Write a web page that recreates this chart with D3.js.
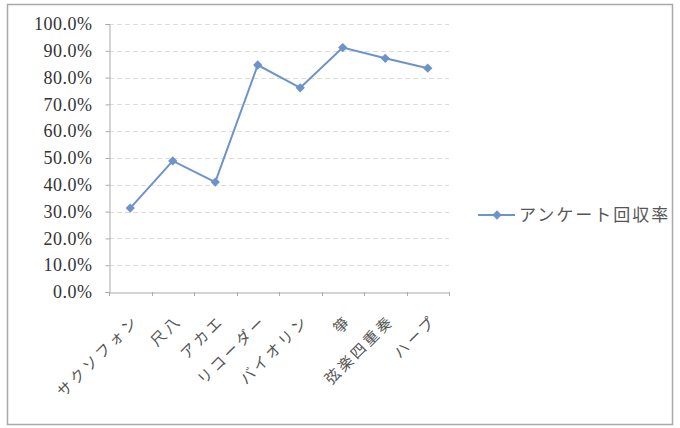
<!DOCTYPE html>
<html><head><meta charset="utf-8">
<script src="https://cdn.jsdelivr.net/npm/d3@7"></script>
<style>body{margin:0;background:#fff}svg{display:block}</style>
</head><body>
<svg id="c" width="680" height="428"></svg>
<script>
const categories = ["サクソフォン","尺八","アカエ","リコーダー","バイオリン","箏","弦楽四重奏","ハープ"];
const values = [31.3, 48.9, 41.0, 84.7, 76.2, 91.2, 87.2, 83.5];
const seriesName = "アンケート回収率";
const yTicks = [0,10,20,30,40,50,60,70,80,90,100];

const svg = d3.select("#c");
const m = {left:109, right:449, top:24, bottom:292};
svg.append("rect").attr("x",7.5).attr("y",4.5).attr("width",665).attr("height",420)
  .attr("fill","#fff").attr("stroke","#a9a9a9").attr("stroke-width",1.5);

const x = d3.scaleBand().domain(categories).range([m.left,m.right]);
const y = d3.scaleLinear().domain([0,100]).range([m.bottom,m.top]);

// gridlines
svg.append("g").selectAll("line").data(yTicks.filter(d=>d>0)).join("line")
  .attr("x1",m.left).attr("x2",m.right)
  .attr("y1",d=>Math.round(y(d))+0.5).attr("y2",d=>Math.round(y(d))+0.5)
  .attr("stroke","#dcdcdc").attr("stroke-width",1).attr("stroke-dasharray","5,3");

const serif = "'Liberation Serif','DejaVu Serif',serif";
const jp = "'Noto Sans CJK JP','Noto Sans CJK SC',sans-serif";

const ya = svg.append("g").attr("transform",`translate(${m.left+0.5},0)`)
  .call(d3.axisLeft(y).tickValues(yTicks).tickSize(4).tickPadding(13).tickFormat(d=>d.toFixed(1)+"%"));
ya.select(".domain").attr("stroke","#aaa");
ya.selectAll(".tick line").attr("stroke","#aaa");
ya.selectAll("text").style("font-family",serif).style("font-size","18px")
  .style("letter-spacing","0.5px").attr("fill","#333");

const xa = svg.append("g").attr("transform",`translate(0,${m.bottom+0.5})`)
  .call(d3.axisBottom(x).tickSize(0).tickFormat(""));
xa.select(".domain").attr("stroke","#aaa");
svg.append("g").selectAll("line").data(categories.concat(["_end"])).join("line")
  .attr("x1",(d,i)=>Math.round(m.left + i*x.step())+0.5)
  .attr("x2",(d,i)=>Math.round(m.left + i*x.step())+0.5)
  .attr("y1",m.bottom).attr("y2",m.bottom+4).attr("stroke","#aaa");

svg.append("g").selectAll("text").data(categories).join("text")
  .attr("transform",d=>`translate(${x(d)+x.bandwidth()/2+6},${m.bottom+26}) rotate(-45)`)
  .attr("text-anchor","end").attr("dy","0.35em")
  .style("font-family",jp).style("font-size","15px").style("letter-spacing","3px")
  .attr("fill","#555").text(d=>d);

const color = "#6d93cb";
const pts = categories.map((c,i)=>[x(c)+x.bandwidth()/2, y(values[i])]);
svg.append("path").attr("d",d3.line()(pts)).attr("fill","none")
  .attr("stroke",color).attr("stroke-width",2);
const sym = d3.symbol().type(d3.symbolDiamond2).size(55);
svg.append("g").selectAll("path").data(pts).join("path")
  .attr("transform",d=>`translate(${d[0]},${d[1]})`).attr("d",sym).attr("fill",color);

// legend
const lg = svg.append("g").attr("transform","translate(478,215)");
lg.append("line").attr("x1",0).attr("x2",37).attr("y1",0).attr("y2",0).attr("stroke",color).attr("stroke-width",2);
lg.append("path").attr("transform","translate(19,0)").attr("d",sym).attr("fill",color);
lg.append("text").attr("x",41).attr("y",6)
  .style("font-family",jp).style("font-size","17px").style("letter-spacing","2px")
  .attr("fill","#555").text(seriesName);
</script>
</body></html>
